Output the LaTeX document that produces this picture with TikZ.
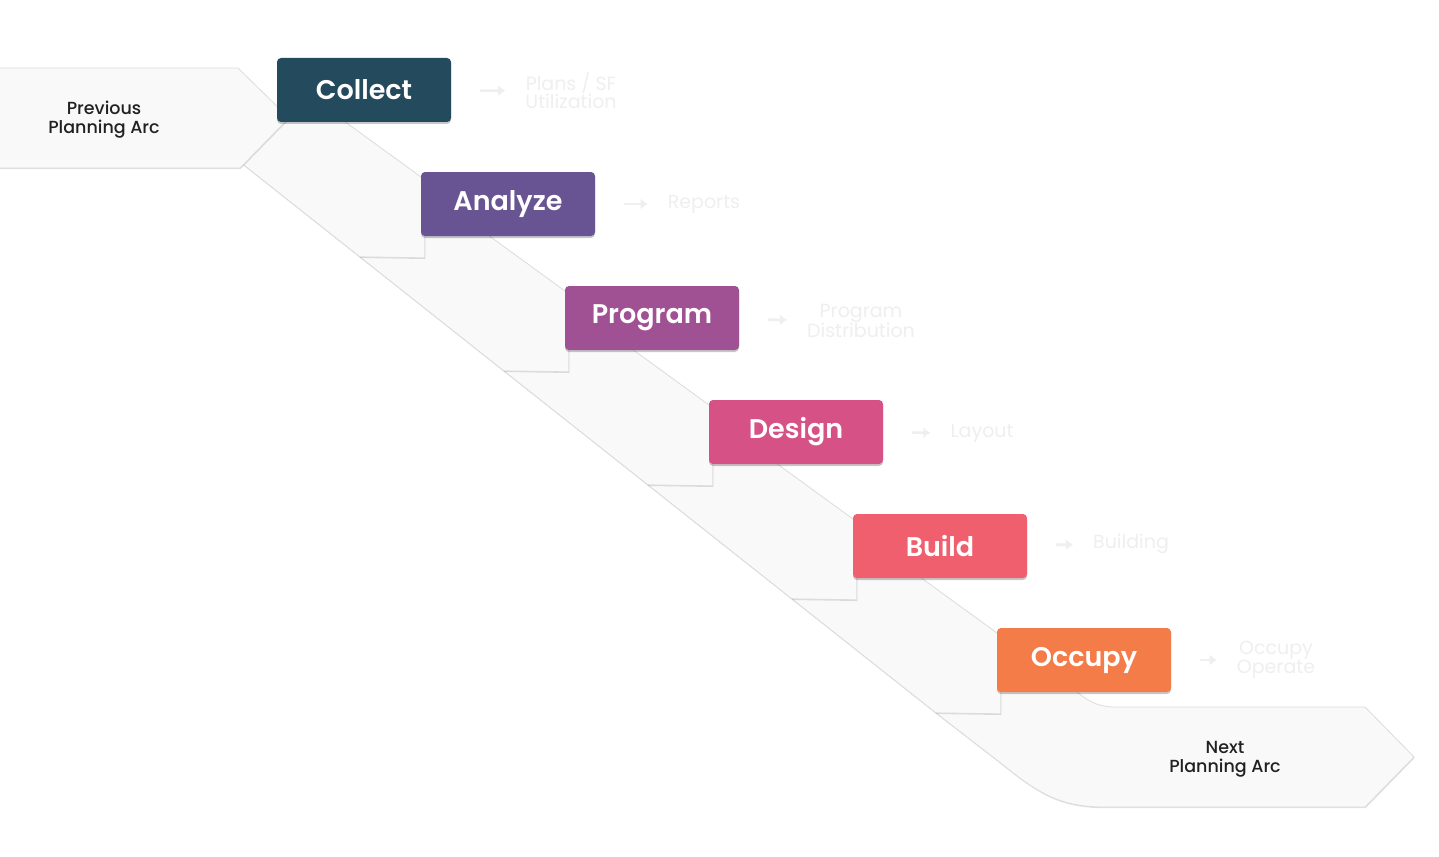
\documentclass[tikz,border=0pt]{standalone}
\usepackage{fontspec}
\setmainfont{Poppins}[BoldFont={Poppins SemiBold}]
\newfontfamily\arcfont{Poppins Medium}
\usetikzlibrary{arrows.meta,positioning,calc,shadows,backgrounds}

\definecolor{collectc}{HTML}{244A5E}
\definecolor{analyzec}{HTML}{685492}
\definecolor{programc}{HTML}{A05194}
\definecolor{designc}{HTML}{D55186}
\definecolor{buildc}{HTML}{F05F6D}
\definecolor{occupyc}{HTML}{F47C48}
\definecolor{ribbonc}{HTML}{F9F9F9}
\definecolor{ribbonline}{HTML}{DCDCDC}
\definecolor{outc}{HTML}{EFEFEF}

\begin{document}
\begin{tikzpicture}[x=1pt, y=-1pt,
    phase/.style={rounded corners=4pt, minimum width=174pt, minimum height=64pt, text=white, font=\fontsize{27}{28}\selectfont\bfseries, drop shadow={shadow xshift=0pt, shadow yshift=-2pt, opacity=0.22, fill=black}},
    output/.style={inner sep=0pt, align=center, text=outc, font=\fontsize{19}{18}\selectfont},
    arclabel/.style={align=center, text=black!87, font=\arcfont\fontsize{17.5}{19}\selectfont},
    ribbon/.style={fill=ribbonc, draw=ribbonline, line width=0.8pt, line join=round, drop shadow={shadow xshift=0.5pt, shadow yshift=-1.2pt, opacity=0.12, fill=black}},
    arr/.style={-{Latex[length=7pt, width=11pt]}, line width=2.6pt, draw=outc, shorten <=29pt, shorten >=20pt}
]
\useasboundingbox (0,0) rectangle (1439,856);

% phases
\node[phase, fill=collectc] (collect) at (364,90) {Collect};
\node[phase, fill=analyzec] (analyze) at (508,204) {Analyze};
\node[phase, fill=programc] (program) at (652,318) {Program};
\node[phase, fill=designc] (design) at (796,432) {Design};
\node[phase, fill=buildc] (build) at (940,546) {Build};
\node[phase, fill=occupyc] (occupy) at (1084,660) {Occupy};

% outputs
\node[output] (plans) at (571,91) {Plans / SF\\Utilization};
\node[output] (reports) at (704,204) {Reports};
\node[output] (distribution) at (861,321) {Program\\Distribution};
\node[output] (layout) at (982,433) {Layout};
\node[output] (building) at (1131,544) {Building};
\node[output] (operate) at (1276,660) {Occupy\\Operate};

\draw[arr] (collect) -- (plans);
\draw[arr] (analyze) -- (reports);
\draw[arr] (program) -- (distribution);
\draw[arr] (design) -- (layout);
\draw[arr] (build) -- (building);
\draw[arr] (occupy) -- (operate);

% arcs
\node[arclabel] (prev) at (104,120) {Previous\\Planning Arc};
\node[arclabel] (next) at (1225,759) {Next\\Planning Arc};

\begin{scope}[on background layer]
\fill[white] (0,0) rectangle (1439,856);
\draw[ribbon] (936,713) -- (1002,764) .. controls (1040,795) and (1062,807) .. (1105,807) -- (1365,807) -- (1414,757) -- (1365,707) -- (1115,707) .. controls (1095,707) and (1085,699) .. (1070,686) -- (1030,655) -- cycle;
\foreach \b in {occupy,build,design,program,analyze}
  \draw[ribbon] ($(\b.north west)+(-110,-75)$) -- ($(\b.north west)+(4,8)$) -- ($(\b.north west)+(4,86)$) -- ($(\b.north west)+(-61,85)$) -- ($(\b.north west)+(-205,-29)$) -- cycle;
\draw[ribbon] (-5,68) -- (238,68) -- (289,118) -- (240,168) -- (-5,168) -- cycle;
\end{scope}
\end{tikzpicture}
\end{document}
